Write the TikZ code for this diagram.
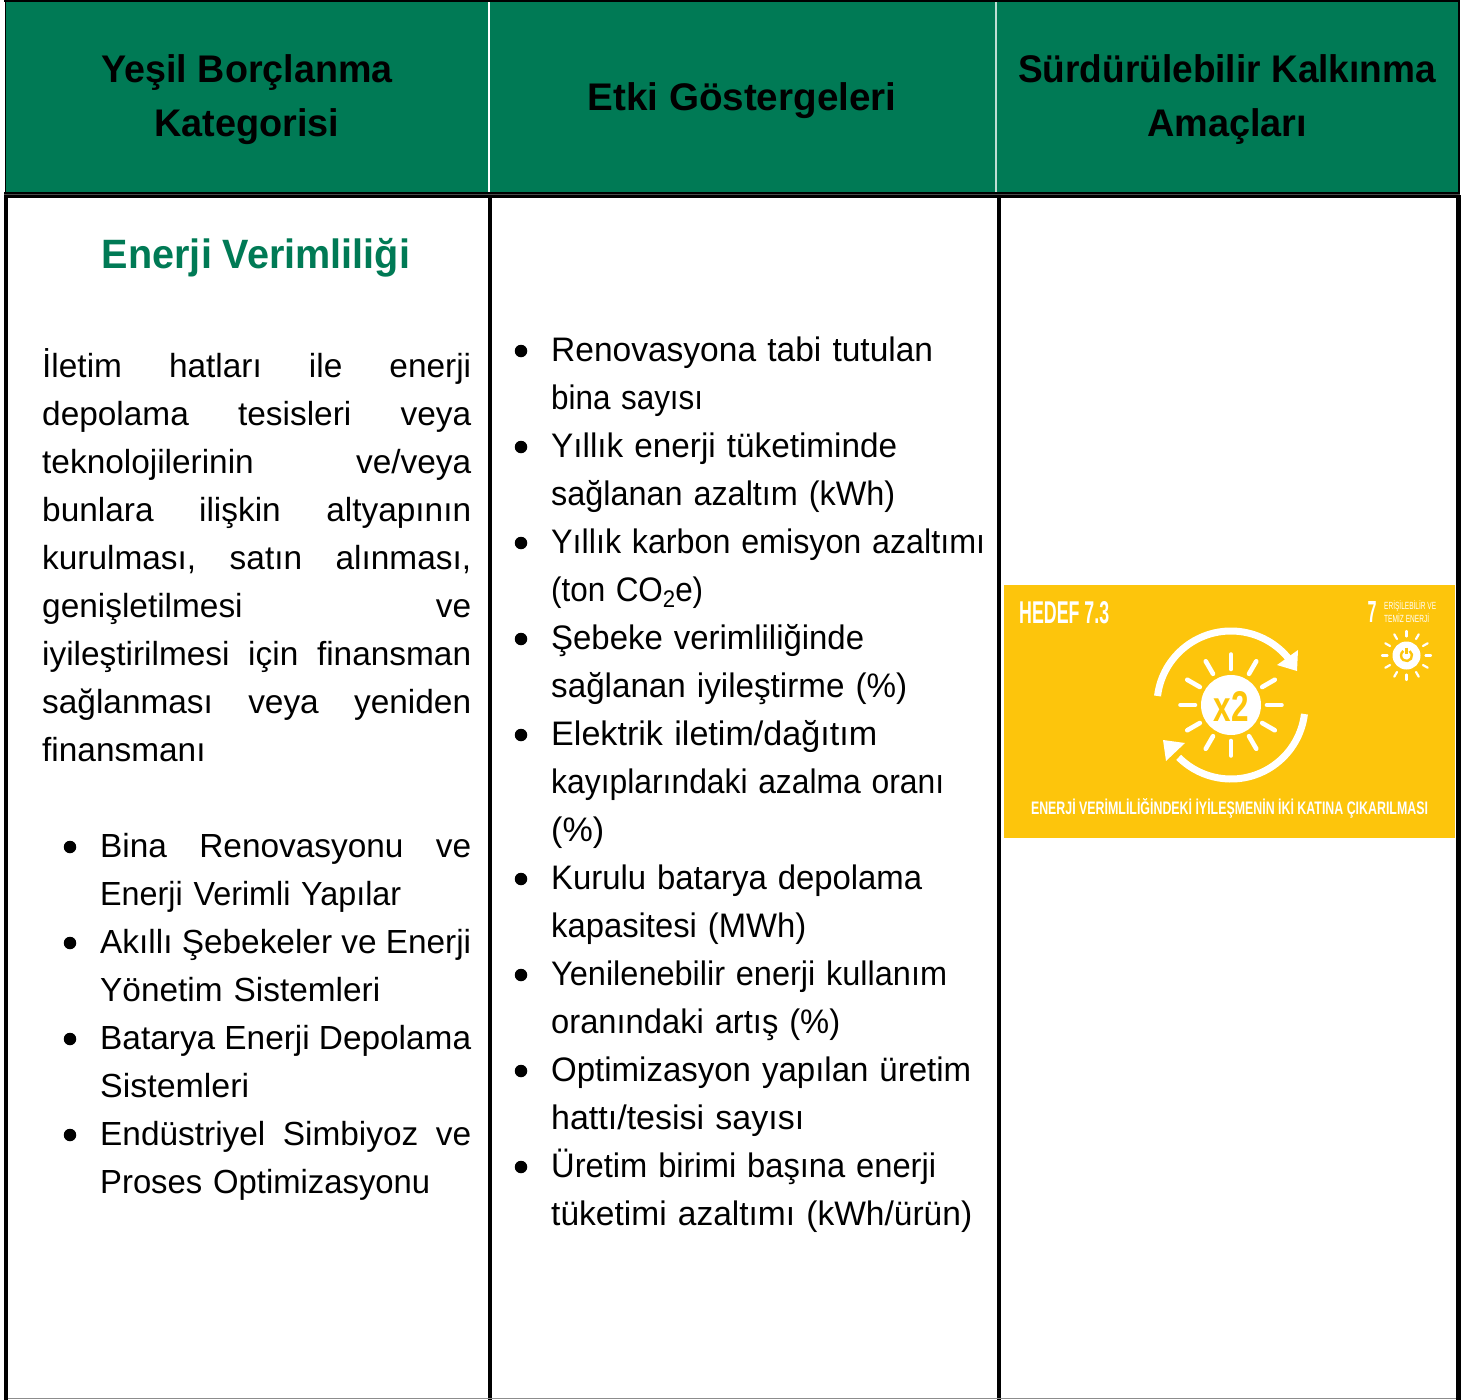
\documentclass[tikz,border=0pt]{standalone}
\usepackage{fontspec}
\usepackage{graphicx}
\setmainfont{Liberation Sans}
\definecolor{hgreen}{HTML}{007A55}
\definecolor{sdgy}{HTML}{FDC50C}
\newlength{\colw}
\newcommand{\jl}[1]{\hbox to \colw{#1\strut}}
\newcommand{\gp}{\hfill}
% one line set to a measured width, its height left as it is
\newcommand{\fl}[2]{\hbox to \colw{\resizebox{#1pt}{\height}{#2}\hfill\strut}}
\newcommand{\fh}[2]{\resizebox{#1pt}{\height}{#2}}
\tikzset{
  hdr/.style={font=\fontsize{38.5}{54}\selectfont\bfseries,align=center,text=black,inner sep=0pt},
  body/.style={font=\fontsize{33.4}{48}\selectfont,anchor=north west,inner sep=0pt,text depth=0pt},
  mbody/.style={font=\fontsize{34}{48}\selectfont,anchor=north west,inner sep=0pt,text depth=0pt},
  dot/.style={circle,fill=black,minimum size=12.5pt,inner sep=0pt},
  ray/.style={white,line width=4.6pt,line cap=round},
  sray/.style={white,line width=2.2pt,line cap=round},
}
\begin{document}
\begin{tikzpicture}[x=1pt,y=-1pt]
\useasboundingbox (0,0) rectangle (1473,1400);
\fill[white] (0,0) rectangle (1473,1400);
% header band
\fill[hgreen] (5,1) rectangle (1459,193);
\draw[white,line width=2.2pt] (489,2) -- (489,192);
\draw[white!75!hgreen,line width=2.2pt] (995.6,2) -- (995.6,192);
% grid
\draw[black,line width=2pt] (4,1) -- (1460,1);
\draw[black,line width=1.6pt] (5.3,0) -- (5.3,193);
\draw[black,line width=2pt] (1459,0) -- (1459,193);
\draw[black,line width=6pt] (4,195.3) -- (1460,195.3);
\draw[black!70,line width=0.7pt] (4,194.3) -- (1460,194.3);
\draw[black,line width=4pt] (6,195) -- (6,1400);
\draw[black,line width=4pt] (490,195) -- (490,1400);
\draw[black,line width=4.5pt] (999.2,195) -- (999.2,1400);
\draw[black,line width=4.5pt] (1458.3,195) -- (1458.3,1400);
\draw[black!45,line width=1.2pt] (8,1398.6) -- (1456,1398.6);
% headers
\node[hdr] (h1) at (247,100) {\fh{291}{Yeşil Borçlanma}\\\fh{185}{Kategorisi}};
\node[hdr] (h2) at (742,101) {\fh{309}{Etki Göstergeleri}};
\node[hdr] (h3) at (1227,100) {\fh{418}{Sürdürülebilir Kalkınma}\\\fh{160}{Amaçları}};
\node[font=\fontsize{41}{48}\selectfont\bfseries,text=hgreen,inner sep=0pt] (t1) at (256,258) {\fh{308}{Enerji Verimliliği}};
% left paragraph
\node[body,text width=429pt] (p1) at (42,344) {\setlength{\colw}{429pt}\baselineskip=48pt\lineskiplimit=-100pt
\jl{İletim\gp hatları\gp ile\gp enerji}
\jl{depolama\gp tesisleri\gp veya}
\jl{teknolojilerinin\gp ve/veya}
\jl{bunlara\gp ilişkin\gp altyapının}
\jl{kurulması,\gp satın\gp alınması,}
\jl{genişletilmesi\gp ve}
\jl{iyileştirilmesi\gp için\gp finansman}
\jl{sağlanması\gp veya\gp yeniden}
\jl{finansmanı\hfill}
};
% left list
\node[body,text width=371pt] (l1) at (100,824) {\setlength{\colw}{371pt}\baselineskip=48pt\lineskiplimit=-100pt
\jl{Bina\gp Renovasyonu\gp ve}
\fl{301}{Enerji Verimli Yapılar}
\jl{Akıllı\gp Şebekeler\gp ve\gp Enerji}
\fl{280}{Yönetim Sistemleri}
\jl{Batarya\gp Enerji\gp Depolama}
\fl{149}{Sistemleri}
\jl{Endüstriyel\gp Simbiyoz\gp ve}
\fl{330}{Proses Optimizasyonu}
};
\foreach \i/\yy in {a/847,b/943,c/1039,d/1135} \node[dot] (ld\i) at (70,\yy) {};
% middle list
\node[mbody,text width=440pt] (l2) at (551,328) {\setlength{\colw}{440pt}\baselineskip=48pt\lineskiplimit=-100pt
\fl{382}{Renovasyona tabi tutulan}
\fl{152}{bina sayısı}
\fl{346}{Yıllık enerji tüketiminde}
\fl{344}{sağlanan azaltım (kWh)}
\fl{434}{Yıllık karbon emisyon azaltımı}
\fl{152}{(ton CO\raisebox{-0.18em}{\fontsize{24}{24}\selectfont 2}e)}
\fl{313}{Şebeke verimliliğinde}
\fl{356}{sağlanan iyileştirme (\%)}
\fl{326}{Elektrik iletim/dağıtım}
\fl{393}{kayıplarındaki azalma oranı}
\fl{53}{(\%)}
\fl{371}{Kurulu batarya depolama}
\fl{255}{kapasitesi (MWh)}
\fl{396}{Yenilenebilir enerji kullanım}
\fl{289}{oranındaki artış (\%)}
\fl{420}{Optimizasyon yapılan üretim}
\fl{253}{hattı/tesisi sayısı}
\fl{385}{Üretim birimi başına enerji}
\fl{421}{tüketimi azaltımı (kWh/ürün)}
};
\foreach \i/\yy in {a/351,b/447,c/543,d/639,e/735,f/879,g/975,h/1071,i/1167} \node[dot] (md\i) at (521,\yy) {};
% SDG card
\fill[sdgy] (1004,585) rectangle (1455,838);
\node[text=white,font=\bfseries,inner sep=0pt,anchor=west] (c1) at (1019,612.5) {\resizebox{90pt}{22pt}{HEDEF 7.3}};
\node[text=white,font=\bfseries,inner sep=0pt,anchor=west] (c2) at (1367.5,612) {\resizebox{9pt}{21pt}{7}};
\node[text=white,inner sep=0pt,anchor=west] (c3) at (1384,606) {\resizebox{52pt}{9pt}{ERİŞİLEBİLİR VE}};
\node[text=white,inner sep=0pt,anchor=west] (c4) at (1384,618) {\resizebox{45pt}{9pt}{TEMİZ ENERJİ}};
\node[text=white,font=\bfseries,inner sep=0pt] (c5) at (1229.5,808.5) {\resizebox{397pt}{16pt}{ENERJİ VERİMLİLİĞİNDEKİ İYİLEŞMENİN İKİ KATINA ÇIKARILMASI}};
% big sun
\begin{scope}[shift={(1231,705)}]
\fill[white] (0,0) circle (30);
\foreach \a in {0,30,...,330} \draw[ray] (\a:36) -- (\a:50.5);
\node[text=sdgy,font=\bfseries,inner sep=0pt] (x2) at (0,1.3) {\resizebox{35pt}{30pt}{x2}};
\draw[white,line width=7pt] (-173:74) arc[start angle=-173,end angle=-39,radius=74];
\fill[white] (67,-55) -- (66,-34) -- (46,-40) -- cycle;
\draw[white,line width=7pt] (7:74) arc[start angle=7,end angle=135,radius=74];
\fill[white] (-46,38) -- (-68,35) -- (-65,56) -- cycle;
\end{scope}
% small sun
\begin{scope}[shift={(1406.5,655.5)}]
\fill[white] (0,0) circle (14);
\foreach \a in {0,30,...,330} \draw[sray] (\a:19) -- (\a:24.5);
\draw[sdgy,line width=2.4pt] (-55:5.5) arc[start angle=-55,end angle=235,radius=5.5];
\draw[sdgy,line width=2.4pt] (0,-8) -- (0,-2);
\end{scope}
\end{tikzpicture}
\end{document}
